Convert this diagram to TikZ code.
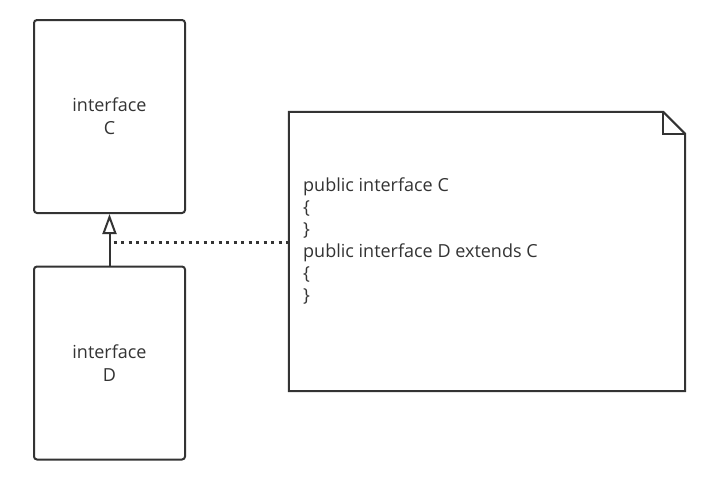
\documentclass[tikz,border=0pt]{standalone}
\usepackage{fontspec}
\setmainfont{Open Sans}
\usepackage{tikz}
\usetikzlibrary{positioning,arrows.meta}
\definecolor{lineColor}{RGB}{51,51,51}
\definecolor{textColor}{RGB}{51,51,51}
\tikzstyle{canvas} = [x = 1pt, y = -1pt]
\tikzstyle{interfaceStyle} = [draw=lineColor, line width=2pt, rounded corners = 3pt, minimum width=151pt, minimum height=193pt, align=center, text=textColor, font=\fontsize{18}{23}\selectfont, inner sep=0pt]
\tikzstyle{noteStyle} = [minimum width=396pt, minimum height=279pt, inner sep=0pt]
\tikzstyle{noteLine} = [draw=lineColor, line width=2pt, line join=miter]
\tikzstyle{noteText} = [align=left, text=textColor, font=\fontsize{18}{22}\selectfont, inner sep=0pt, anchor=north west]
\tikzstyle{extendsLine} = [draw=lineColor, line width=2pt, -{Triangle[open, length=20pt, width=14pt, line width=2pt]}]
\tikzstyle{linkLine} = [draw=lineColor, line width=3pt, dash pattern=on 3pt off 4.5pt]
\newcommand{\dogEar}{22}
\begin{document}
\begin{tikzpicture}[canvas]
\useasboundingbox (0,0) rectangle (714,488);
\node [interfaceStyle] (C) at (109.5,116.5) {interface\\C};
\node [interfaceStyle] (D) at (109.5,363) {interface\\D};
\node [noteStyle] (note) at (487,251.5) {};
\draw [noteLine] (note.north west) -- ([xshift=-\dogEar pt]note.north east) -- ([yshift=-\dogEar pt]note.north east) -- (note.south east) -- (note.south west) -- cycle;
\draw [noteLine] ([xshift=-\dogEar pt]note.north east) |- ([yshift=-\dogEar pt]note.north east);
\node [noteText] (code) at (303,178) {public interface C\\\{\\\}\\public interface D extends C\\\{\\\}};
\draw [extendsLine] (D.north) -- (C.south) coordinate [pos=0.44] (link);
\draw [linkLine] ([xshift=4pt]link) -- (note.west |- link);
\end{tikzpicture}
\end{document}
